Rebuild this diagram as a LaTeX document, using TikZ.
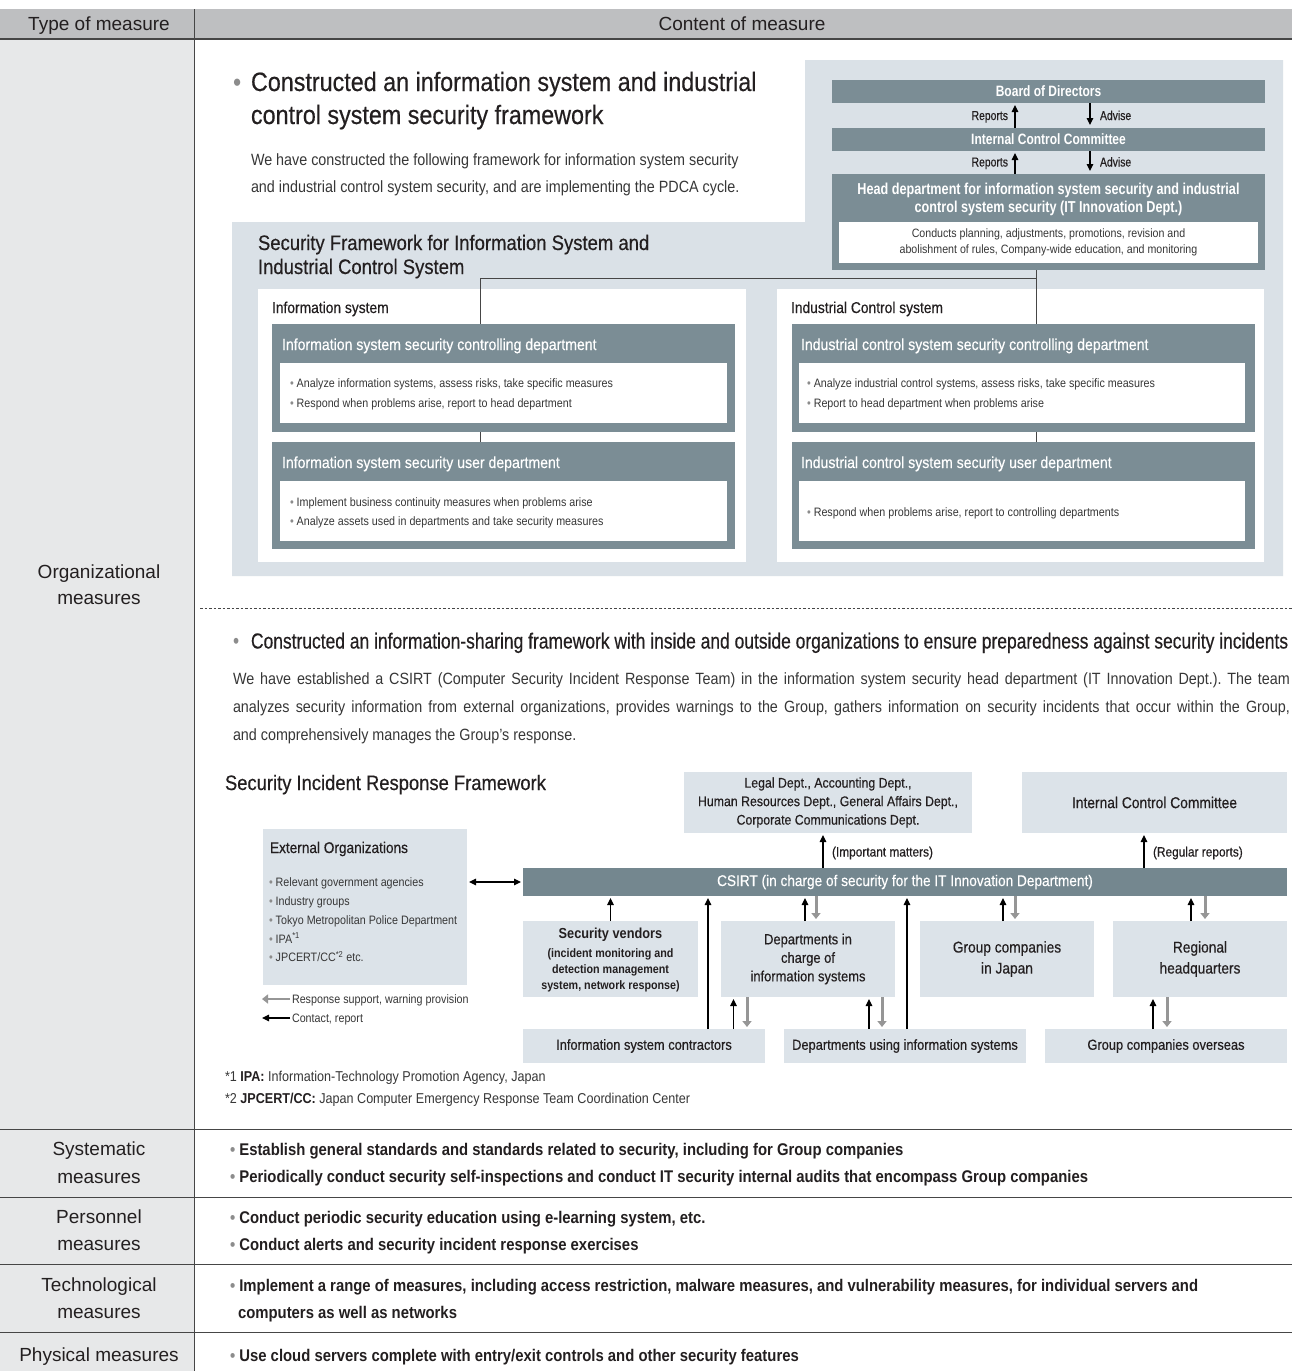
\documentclass[tikz,border=0pt]{standalone}
\usepackage{fontspec}
\setmainfont{Liberation Sans}
\newfontfamily\cnd[FakeStretch=0.88]{Liberation Sans}
\newfontfamily\cndm[FakeStretch=0.88,FakeBold=0.4]{Liberation Sans}
\newfontfamily\cndn[FakeStretch=0.8]{Liberation Sans}
\newfontfamily\cndnm[FakeStretch=0.8,FakeBold=0.4]{Liberation Sans}
\usetikzlibrary{arrows.meta}
\frenchspacing
\definecolor{hdr}{RGB}{190,191,193}
\definecolor{lcol}{RGB}{231,232,233}
\definecolor{panel}{RGB}{218,225,231}
\definecolor{slate}{RGB}{123,141,149}
\definecolor{csb}{RGB}{116,135,143}
\definecolor{lbox}{RGB}{220,227,233}
\definecolor{txt}{RGB}{35,31,32}
\definecolor{gtxt}{RGB}{55,55,55}
\definecolor{garrow}{RGB}{150,150,150}
\definecolor{rulec}{RGB}{70,70,70}
\definecolor{bul}{RGB}{140,140,140}
\newcommand\sz[2]{\fontsize{#1}{#2}\selectfont}
\newcounter{tn}
\newcommand\tx[4][]{\stepcounter{tn}\node[anchor=base west,#1] (t\arabic{tn}) at (#2,#3) {#4};}
\newcommand\bx[6]{\node[#1,anchor=north west,minimum width={(#5-#3)*1pt},minimum height={(#6-#4)*1pt}] (#2) at (#3,#4) {};}
\newcommand\cbx[7]{\node[#1,align=center,minimum width={(#5-#3)*1pt},minimum height={(#6-#4)*1pt}] (#2) at ({(#3+#5)/2},{(#4+#6)/2}) {#7};}
\tikzset{
 dk/.style={fill=slate},
 wbox/.style={fill=white},
 lb/.style={fill=lbox,text=txt},
 arr/.style={draw=black,line width=1.1pt,-{Triangle[length=7pt,width=6.5pt]},shorten >=2pt},
 garr/.style={draw=garrow,line width=3pt,-{Triangle[length=6pt,width=9pt]},shorten >=2pt},
 conn/.style={draw=rulec,line width=1pt},
 lab/.style={font=\sz{19}{22},text=txt},
 bot/.style={font=\cnd\bfseries\sz{16.9}{20},text=txt},
 dtitle/.style={font=\cndm\sz{16}{20},text=white},
 dbul/.style={font=\cnd\sz{12.2}{15},text=gtxt},
}
\begin{document}
\begin{tikzpicture}[x=1pt,y=-1pt,every node/.style={inner sep=0,outer sep=0}]
\useasboundingbox (0,0) rectangle (1292,1371);
\fill[white] (0,0) rectangle (1292,1371);
% table frame
\fill[hdr] (0,9) rectangle (1292,39);
\fill[lcol] (0,39) rectangle (194,1371);
\draw[rulec,line width=1.2pt] (0,39) -- (1292,39);
\draw[rulec,line width=1pt] (194,9) -- (194,1371);
\foreach \yy in {1129,1197,1264,1332} \draw[rulec,line width=1pt] (0,\yy) -- (1292,\yy);
\tx[anchor=base,lab]{99}{30.5}{Type of measure}
\tx[anchor=base,lab]{742}{30.5}{Content of measure}
\tx[anchor=base,lab]{99}{578}{Organizational}
\tx[anchor=base,lab]{99}{604}{measures}
\tx[anchor=base,lab]{99}{1155.5}{Systematic}
\tx[anchor=base,lab]{99}{1183}{measures}
\tx[anchor=base,lab]{99}{1223.5}{Personnel}
\tx[anchor=base,lab]{99}{1250.5}{measures}
\tx[anchor=base,lab]{99}{1291.5}{Technological}
\tx[anchor=base,lab]{99}{1318.5}{measures}
\tx[anchor=base,lab]{99}{1361.5}{Physical measures}
% bottom rows content
\tx[bot]{230}{1155}{{\color{bul}•} Establish general standards and standards related to security, including for Group companies}
\tx[bot]{230}{1182}{{\color{bul}•} Periodically conduct security self-inspections and conduct IT security internal audits that encompass Group companies}
\tx[bot]{230}{1223}{{\color{bul}•} Conduct periodic security education using e-learning system, etc.}
\tx[bot]{230}{1250}{{\color{bul}•} Conduct alerts and security incident response exercises}
\tx[bot]{230}{1291}{{\color{bul}•} Implement a range of measures, including access restriction, malware measures, and vulnerability measures, for individual servers and}
\tx[bot]{238}{1318}{computers as well as networks}
\tx[bot]{230}{1361}{{\color{bul}•} Use cloud servers complete with entry/exit controls and other security features}
% ---------- first section
\tx[font=\cnd\sz{26.5}{30},text=bul]{233}{91}{•}
\tx[font=\cndm\sz{26.5}{30},text=txt]{251}{91}{Constructed an information system and industrial}
\tx[font=\cndm\sz{26.5}{30},text=txt]{251}{124}{control system security framework}
\tx[font=\cnd\sz{16.3}{20},text=gtxt]{251}{165.5}{We have constructed the following framework for information system security}
\tx[font=\cnd\sz{16.3}{20},text=gtxt]{251}{192.5}{and industrial control system security, and are implementing the PDCA cycle.}
\fill[panel] (805,60) -- (1283,60) -- (1283,576) -- (232,576) -- (232,222) -- (805,222) -- cycle;
\tx[font=\cndm\sz{21}{24},text=txt]{258}{250}{Security Framework for Information System and}
\tx[font=\cndm\sz{21}{24},text=txt]{258}{274}{Industrial Control System}
% top org chain
\cbx{dk,text=white,font=\cndn\bfseries\sz{15}{18}}{bod}{832}{80}{1265}{103}{Board of Directors}
\cbx{dk,text=white,font=\cndn\bfseries\sz{15}{18}}{icc}{832}{128}{1265}{151}{Internal Control Committee}
\bx{dk}{head}{832}{174}{1265}{270}
\tx[anchor=base,font=\cndn\bfseries\sz{15.8}{18},text=white]{1048.5}{194}{Head department for information system security and industrial}
\tx[anchor=base,font=\cndn\bfseries\sz{15.8}{18},text=white]{1048.5}{212}{control system security (IT Innovation Dept.)}
\cbx{wbox,text=gtxt,font=\cnd\sz{12.1}{16}}{headin}{839}{222}{1258}{263}{Conducts planning, adjustments, promotions, revision and\\abolishment of rules, Company-wide education, and monitoring}
\draw[arr] ([xshift=-33.5pt]icc.north) -- ([xshift=-33.5pt]bod.south);
\draw[arr,shorten >=3pt] ([xshift=41.5pt]bod.south) -- ([xshift=41.5pt]icc.north);
\draw[arr] ([xshift=-33.5pt]head.north) -- ([xshift=-33.5pt]icc.south);
\draw[arr,shorten >=3pt] ([xshift=41.5pt]icc.south) -- ([xshift=41.5pt]head.north);
\tx[anchor=base east,font=\cndnm\sz{13}{16},text=txt]{1008}{120}{Reports}
\tx[font=\cndnm\sz{13}{16},text=txt]{1100}{120}{Advise}
\tx[anchor=base east,font=\cndnm\sz{13}{16},text=txt]{1008}{166.5}{Reports}
\tx[font=\cndnm\sz{13}{16},text=txt]{1100}{166.5}{Advise}
% information system
\bx{wbox}{isw}{258}{289}{746}{562}
\tx[font=\cndm\sz{15.7}{18},text=txt]{272}{313}{Information system}
\bx{dk}{is1}{272}{324}{735}{432}
\tx[dtitle]{282}{350}{Information system security controlling department}
\bx{wbox}{is1in}{280}{363}{727}{423}
\tx[dbul]{290}{387.5}{{\color{bul}•} Analyze information systems, assess risks, take specific measures}
\tx[dbul]{290}{407}{{\color{bul}•} Respond when problems arise, report to head department}
\bx{dk}{is2}{272}{442}{735}{549}
\tx[dtitle]{282}{468}{Information system security user department}
\bx{wbox}{is2in}{280}{481}{727}{541}
\tx[dbul]{290}{506}{{\color{bul}•} Implement business continuity measures when problems arise}
\tx[dbul]{290}{525.5}{{\color{bul}•} Analyze assets used in departments and take security measures}
% industrial control system
\bx{wbox}{icw}{777}{289}{1264}{562}
\tx[font=\cndm\sz{15.7}{18},text=txt]{791}{313}{Industrial Control system}
\bx{dk}{ic1}{792}{324}{1255}{432}
\tx[dtitle]{801}{350}{Industrial control system security controlling department}
\bx{wbox}{ic1in}{799}{363}{1245}{423}
\tx[dbul]{807}{387.5}{{\color{bul}•} Analyze industrial control systems, assess risks, take specific measures}
\tx[dbul]{807}{407}{{\color{bul}•} Report to head department when problems arise}
\bx{dk}{ic2}{792}{442}{1255}{549}
\tx[dtitle]{801}{468}{Industrial control system security user department}
\bx{wbox}{ic2in}{799}{481}{1245}{541}
\tx[dbul]{807}{516}{{\color{bul}•} Respond when problems arise, report to controlling departments}
% connectors
\coordinate (j1) at (1036,278);
\coordinate (j2) at (480,278);
\draw[conn] (head.south -| j1) -- (ic1.north -| j1);
\draw[conn] (j1) -- (j2) -- (is1.north -| j2);
\draw[conn] (is1.south -| j2) -- (is2.north -| j2);
\draw[conn] (ic1.south -| j1) -- (ic2.north -| j1);
% dashed separator
\draw[rulec,line width=0.8pt,dash pattern=on 2.5pt off 2pt] (200,608) -- (1292,608);
% ---------- second section
\tx[font=\cndn\sz{21.8}{26},text=bul]{233}{648.5}{•}
\tx[font=\cndnm\sz{21.8}{26},text=txt]{251}{648.5}{Constructed an information-sharing framework with inside and outside organizations to ensure preparedness against security incidents}
\tx[font=\cnd\sz{16.3}{20},text=gtxt]{233}{684.5}{\makebox[1057pt][s]{We have established a CSIRT (Computer Security Incident Response Team) in the information system security head department (IT Innovation Dept.). The team}}
\tx[font=\cnd\sz{16.3}{20},text=gtxt]{233}{712.5}{\makebox[1057pt][s]{analyzes security information from external organizations, provides warnings to the Group, gathers information on security incidents that occur within the Group,}}
\tx[font=\cnd\sz{16.3}{20},text=gtxt]{233}{740.5}{and comprehensively manages the Group’s response.}
\tx[font=\cndm\sz{20.9}{24},text=txt]{225}{790}{Security Incident Response Framework}
% boxes
\cbx{lb,font=\cndm\sz{14}{18.5}}{legal}{684}{772}{972}{833}{Legal Dept., Accounting Dept.,\\Human Resources Dept., General Affairs Dept.,\\Corporate Communications Dept.}
\cbx{lb,font=\cndm\sz{15.7}{20}}{icc2}{1022}{772}{1287}{833}{Internal Control Committee}
\cbx{fill=csb,text=white,font=\cndm\sz{15.5}{20}}{csirt}{523}{868}{1287}{896}{CSIRT (in charge of security for the IT Innovation Department)}
\bx{lb}{ext}{263}{829}{467}{985}
\tx[font=\cndm\sz{15.5}{18},text=txt]{270}{853}{External Organizations}
\tx[dbul]{269}{886.5}{{\color{bul}•} Relevant government agencies}
\tx[dbul]{269}{905.5}{{\color{bul}•} Industry groups}
\tx[dbul]{269}{924.5}{{\color{bul}•} Tokyo Metropolitan Police Department}
\tx[dbul]{269}{943}{{\color{bul}•} IPA\textsuperscript{*1}}
\tx[dbul]{269}{961.5}{{\color{bul}•} JPCERT/CC\textsuperscript{*2} etc.}
\draw[arr,{Triangle[length=7pt,width=6.5pt]}-{Triangle[length=7pt,width=6.5pt]},shorten <=2pt] (ext.east |- csirt.west) -- (csirt.west);
% legend
\coordinate (lga) at (290,999);
\coordinate (lgb) at (262,999);
\coordinate (lgc) at (290,1018);
\coordinate (lgd) at (262,1018);
\draw[garr,line width=2.5pt,shorten >=0pt] (lga) -- (lgb);
\draw[arr,shorten >=0pt] (lgc) -- (lgd);
\tx[dbul]{292}{1003.5}{Response support, warning provision}
\tx[dbul]{292}{1022.5}{Contact, report}
% lower boxes
\bx{lb}{sv}{523}{921}{698}{997}
\tx[anchor=base,font=\cnd\bfseries\sz{14.5}{18},text=txt]{610.5}{938.5}{Security vendors}
\tx[anchor=base,font=\cnd\bfseries\sz{12.2}{15},text=txt]{610.5}{957.5}{(incident monitoring and}
\tx[anchor=base,font=\cnd\bfseries\sz{12.2}{15},text=txt]{610.5}{973.5}{detection management}
\tx[anchor=base,font=\cnd\bfseries\sz{12.2}{15},text=txt]{610.5}{989.5}{system, network response)}
\cbx{lb,font=\cndm\sz{14.7}{18.5}}{dic}{721}{921}{895}{997}{Departments in\\charge of\\information systems}
\cbx{lb,font=\cndm\sz{15.6}{21}}{gj}{920}{921}{1094}{997}{Group companies\\in Japan}
\cbx{lb,font=\cndm\sz{15.6}{21}}{rh}{1113}{921}{1287}{997}{Regional\\headquarters}
\cbx{lb,font=\cndm\sz{14.6}{18}}{isc}{523}{1029}{765}{1063}{Information system contractors}
\cbx{lb,font=\cndm\sz{14.6}{18}}{dui}{784}{1029}{1026}{1063}{Departments using information systems}
\cbx{lb,font=\cndm\sz{14.6}{18}}{gco}{1045}{1029}{1287}{1063}{Group companies overseas}
% x positions of arrows
\coordinate (xa) at (823,0);
\coordinate (xb) at (1144,0);
\coordinate (xc) at (708,0);
\coordinate (xd) at (907,0);
\coordinate (xe1) at (805,0);  \coordinate (xe2) at (816,0);
\coordinate (xf1) at (1003,0); \coordinate (xf2) at (1015,0);
\coordinate (xg1) at (1191,0); \coordinate (xg2) at (1205,0);
\coordinate (xh1) at (733.5,0); \coordinate (xh2) at (747,0);
\coordinate (xi1) at (869,0);  \coordinate (xi2) at (882,0);
\coordinate (xj1) at (1153,0); \coordinate (xj2) at (1167,0);
\draw[arr] (csirt.north -| xa) -- (legal.south -| xa);
\draw[arr] (csirt.north -| xb) -- (icc2.south -| xb);
\tx[font=\cndm\sz{13.5}{16},text=txt]{832}{856.5}{(Important matters)}
\tx[font=\cndm\sz{13.5}{16},text=txt]{1153}{856.5}{(Regular reports)}
\draw[arr] (sv.north) -- (sv.north |- csirt.south);
\draw[arr] (isc.north -| xc) -- (csirt.south -| xc);
\draw[arr] (dui.north -| xd) -- (csirt.south -| xd);
\draw[arr] (dic.north -| xe1) -- (csirt.south -| xe1);
\draw[garr] (csirt.south -| xe2) -- (dic.north -| xe2);
\draw[arr] (gj.north -| xf1) -- (csirt.south -| xf1);
\draw[garr] (csirt.south -| xf2) -- (gj.north -| xf2);
\draw[arr] (rh.north -| xg1) -- (csirt.south -| xg1);
\draw[garr] (csirt.south -| xg2) -- (rh.north -| xg2);
\draw[arr] (isc.north -| xh1) -- (dic.south -| xh1);
\draw[garr] (dic.south -| xh2) -- (isc.north -| xh2);
\draw[arr] (dui.north -| xi1) -- (dic.south -| xi1);
\draw[garr] (dic.south -| xi2) -- (dui.north -| xi2);
\draw[arr] (gco.north -| xj1) -- (rh.south -| xj1);
\draw[garr] (rh.south -| xj2) -- (gco.north -| xj2);
% footnotes
\tx[font=\cnd\sz{14.3}{17},text=gtxt]{225}{1081}{*1 {\color{txt}\bfseries IPA:} Information-Technology Promotion Agency, Japan}
\tx[font=\cnd\sz{14.3}{17},text=gtxt]{225}{1103}{*2 {\color{txt}\bfseries JPCERT/CC:} Japan Computer Emergency Response Team Coordination Center}
\end{tikzpicture}
\end{document}
